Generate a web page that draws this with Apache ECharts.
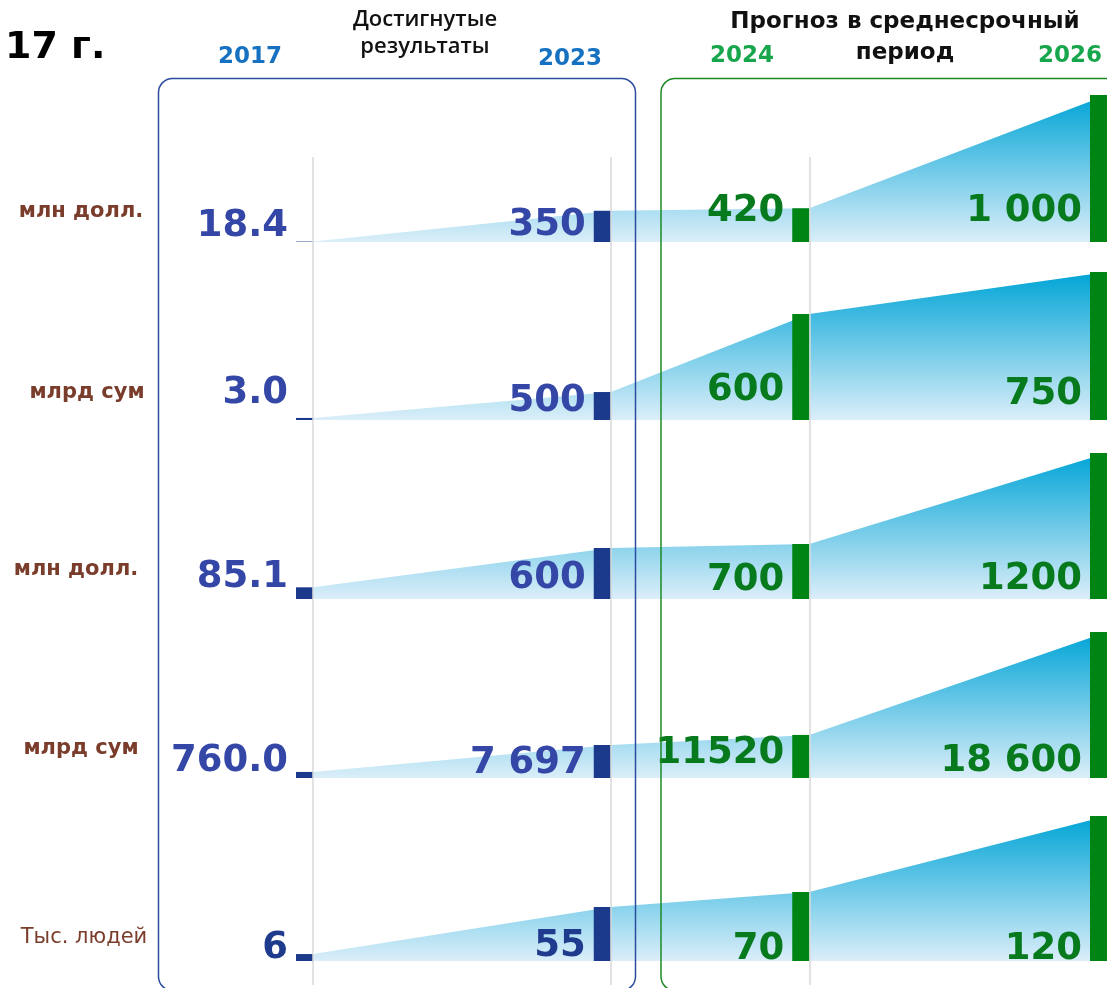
<!DOCTYPE html>
<html>
<head>
<meta charset="utf-8">
<script src="https://cdn.jsdelivr.net/npm/echarts@6/dist/echarts.min.js"></script>
<style>
html,body{margin:0;padding:0;background:#fff;}
#chart{width:1107px;height:988px;}
</style>
</head>
<body>
<div id="chart"></div>
<script>
// ---- data ----
const years = ['2017', '2023', '2024', '2026'];
const units = ['млн долл.', 'млрд сум', 'млн долл.', 'млрд сум', 'Тыс. людей'];
// value labels shown in the picture
const labels1 = ['18.4', '350', '420', '1 000'];
const labels2 = ['3.0', '500', '600', '750'];
const labels3 = ['85.1', '600', '700', '1200'];
const labels4 = ['760.0', '7 697', '11520', '18 600'];
const labels5 = ['6', '55', '70', '120'];
// bar / area levels as drawn in the picture (percent of each row's full height)
const level1 = [0.3, 21.1, 22.8, 99.3];
const level2 = [1.4, 18.9, 71.6, 100];
const level3 = [7.9, 34.5, 37.2, 98.6];
const level4 = [4.1, 22.3, 29.1, 98.6];
const level5 = [4.7, 36.5, 46.6, 98];
const headerLeft = ['Достигнутые', 'результаты'];
const headerRight = ['Прогноз в среднесрочный', 'период'];
const cornerTitle = '17 г.';

// ---- layout ----
const rows = [
  {labels: labels1, level: level1, unit: units[0], base: 242, lift: [-3, -2, 12, 12], unitY: 212, unitX: 81, bold: true},
  {labels: labels2, level: level2, unit: units[1], base: 420, lift: [8, 0, 11, 7], unitY: 393, unitX: 87, bold: true},
  {labels: labels3, level: level3, unit: units[2], base: 599, lift: [3, 2, 0, 1], unitY: 570, unitX: 76, bold: true},
  {labels: labels4, level: level4, unit: units[3], base: 778, lift: [-2, -4, 6, -2], unitY: 749, unitX: 81, bold: true},
  {labels: labels5, level: level5, unit: units[4], base: 961, lift: [-6, -4, -7, -7], unitY: 938, unitX: 84, bold: false}
];
const gaps = [3, 2, 3];           // slot spacing between years
const slotIdx = [0];
gaps.forEach(g => slotIdx.push(slotIdx[slotIdx.length - 1] + g));
const nSlots = slotIdx[slotIdx.length - 1] + 1;
const slots = [];
for (let i = 0; i < nSlots; i++) slots.push('');
slotIdx.forEach((s, k) => slots[s] = years[k]);

const ROW_H = 148, LEFT = 313, BAR_W = 17, LABEL_GAP = 8;
const blueBar = '#1b3a8c', greenBar = '#008413';
const blueTxt = '#3447a7', blueTxtDark = '#1f3b8e', greenTxt = '#087a1e';

const chart = echarts.init(document.getElementById('chart'));
const grid = [], xAxis = [], yAxis = [], series = [];

rows.forEach((r, i) => {
  grid.push({left: LEFT, right: 0, top: r.base - ROW_H, height: ROW_H});
  xAxis.push({type: 'category', gridIndex: i, data: slots, boundaryGap: false, show: false});
  yAxis.push({type: 'value', gridIndex: i, min: 0, max: 100, show: false});
  const pts = r.level.map((v, k) => [slotIdx[k], v, k]);
  series.push({
    type: 'line', xAxisIndex: i, yAxisIndex: i, data: pts, symbol: 'none', silent: true,
    lineStyle: {width: 0},
    areaStyle: {
      opacity: 1,
      color: new echarts.graphic.LinearGradient(0, 0, 0, 1, [
        {offset: 0, color: '#00a4d6'},
        {offset: 1, color: '#dbeef9'}
      ])
    },
    z: 1
  });
  series.push({
    type: 'custom', xAxisIndex: i, yAxisIndex: i, data: pts, z: 3,
    renderItem: function (params, api) {
      const k = api.value(2);
      const top = api.coord([api.value(0), api.value(1)]);
      const base = api.coord([api.value(0), 0]);
      const green = k >= 2;
      const txtColor = green ? greenTxt : (i === 4 ? blueTxtDark : blueTxt);
      return {
        type: 'group',
        children: [
          {type: 'rect', shape: {x: top[0] - BAR_W, y: top[1], width: BAR_W, height: Math.max(base[1] - top[1], 0)},
           style: {fill: green ? greenBar : blueBar}},
          {type: 'text', x: top[0] - BAR_W - LABEL_GAP, y: base[1] - r.lift[k],
           style: {text: r.labels[k], fill: txtColor, font: 'bold 37px "DejaVu Sans"', align: 'right', verticalAlign: 'bottom'}}
        ]
      };
    }
  });
});

// grid for the year guide lines
grid.push({left: LEFT, right: 0, top: 157, bottom: 3});
xAxis.push({
  type: 'category', gridIndex: 5, data: slots, boundaryGap: false, z: 5,
  axisLine: {show: false}, axisTick: {show: false}, axisLabel: {show: false},
  splitLine: {show: true, interval: (idx) => slotIdx.slice(0, 3).indexOf(idx) >= 0,
              lineStyle: {color: '#d9d9d9', width: 1.5}}
});
yAxis.push({type: 'value', gridIndex: 5, show: false});

const graphic = [
  {type: 'rect', z: 10, shape: {x: 158.5, y: 78.5, width: 477, height: 912, r: 14},
   style: {fill: null, stroke: '#2c4c9f', lineWidth: 1.5}},
  {type: 'rect', z: 10, shape: {x: 661, y: 78.5, width: 470, height: 912, r: 14},
   style: {fill: null, stroke: '#1b8a24', lineWidth: 1.5}},
  {type: 'text', x: 5, y: 48, style: {text: cornerTitle, font: 'bold 38px "DejaVu Sans"', fill: '#000', verticalAlign: 'middle'}},
  {type: 'text', x: 425, y: 20, style: {text: headerLeft[0], font: '600 22px "Open Sans"', fill: '#111', align: 'center', verticalAlign: 'middle'}},
  {type: 'text', x: 425, y: 47, style: {text: headerLeft[1], font: '600 22px "Open Sans"', fill: '#111', align: 'center', verticalAlign: 'middle'}},
  {type: 'text', x: 905, y: 22, style: {text: headerRight[0], font: 'bold 23px "DejaVu Sans"', fill: '#111', align: 'center', verticalAlign: 'middle'}},
  {type: 'text', x: 905, y: 53, style: {text: headerRight[1], font: 'bold 23px "DejaVu Sans"', fill: '#111', align: 'center', verticalAlign: 'middle'}},
  {type: 'text', x: 250, y: 57, style: {text: years[0], font: 'bold 23px "DejaVu Sans"', fill: '#1671c0', align: 'center', verticalAlign: 'middle'}},
  {type: 'text', x: 570, y: 59, style: {text: years[1], font: 'bold 23px "DejaVu Sans"', fill: '#1671c0', align: 'center', verticalAlign: 'middle'}},
  {type: 'text', x: 742, y: 56, style: {text: years[2], font: 'bold 23px "DejaVu Sans"', fill: '#17a64b', align: 'center', verticalAlign: 'middle'}},
  {type: 'text', x: 1070, y: 56, style: {text: years[3], font: 'bold 23px "DejaVu Sans"', fill: '#17a64b', align: 'center', verticalAlign: 'middle'}}
];
rows.forEach(r => {
  graphic.push({type: 'text', x: r.unitX, y: r.unitY,
    style: {text: r.unit, fill: '#7a3d2c', align: 'center', verticalAlign: 'middle',
            font: r.bold ? 'bold 21px "DejaVu Sans"' : '21px "DejaVu Sans"'}});
});

chart.setOption({
  animation: false,
  backgroundColor: '#fff',
  grid, xAxis, yAxis, series, graphic
});
</script>
</body>
</html>
